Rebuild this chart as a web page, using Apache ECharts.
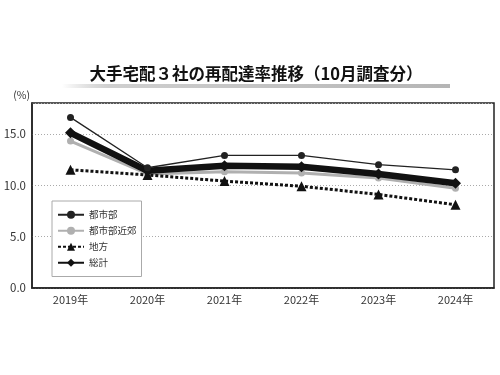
<!DOCTYPE html>
<html>
<head>
<meta charset="utf-8">
<script src="https://cdn.jsdelivr.net/npm/echarts@6/dist/echarts.min.js"></script>
<style>
  html, body { margin: 0; padding: 0; background: #fff; }
  #chart { width: 500px; height: 375px; }
</style>
</head>
<body>
<div id="chart"></div>
<script>
const years = ['2019年', '2020年', '2021年', '2022年', '2023年', '2024年'];
const urban = [16.6, 11.7, 12.9, 12.9, 12.0, 11.5];
const suburban = [14.3, 11.1, 11.3, 11.2, 10.7, 9.7];
const rural = [11.5, 11.0, 10.4, 9.9, 9.1, 8.1];
const total = [15.1, 11.4, 11.9, 11.8, 11.1, 10.2];
const yTicks = [0, 5, 10, 15];

const font = '"Noto Sans CJK JP", "Noto Sans", sans-serif';
const chart = echarts.init(document.getElementById('chart'), null, { renderer: 'canvas' });

chart.setOption({
  backgroundColor: '#fff',
  animation: false,
  textStyle: { fontFamily: font },
  graphic: [
    {
      type: 'rect',
      shape: { x: 62, y: 84, width: 388, height: 4 },
      style: {
        fill: new echarts.graphic.LinearGradient(0, 0, 1, 0, [
          { offset: 0, color: 'rgba(190,190,190,0)' },
          { offset: 0.12, color: '#cfcfcf' },
          { offset: 1, color: '#b5b5b5' }
        ])
      },
      z: 1
    },
    {
      type: 'text',
      x: 256, y: 74,
      style: {
        text: '大手宅配３社の再配達率推移（10月調査分）',
        font: 'bold 16.5px ' + font,
        fill: '#111',
        align: 'center',
        verticalAlign: 'middle'
      },
      z: 2
    }
  ],
  grid: {
    left: 32, right: 6, top: 103, bottom: 87,
    show: true, borderColor: '#222', borderWidth: 1.5,
    containLabel: false
  },
  legend: {
    orient: 'vertical',
    left: 52, top: 201,
    padding: [9, 5, 9, 5],
    itemWidth: 26, itemHeight: 10, itemGap: 6.5,
    borderColor: '#aaa', borderWidth: 1,
    backgroundColor: '#fff',
    textStyle: { fontSize: 9.5, color: '#333', fontFamily: font },
    data: ['都市部', '都市部近郊', '地方', '総計']
  },
  xAxis: {
    type: 'category',
    data: years,
    boundaryGap: true,
    axisLine: { lineStyle: { color: '#222', width: 1.5 } },
    axisTick: { inside: true, length: 3, lineStyle: { color: '#222' } },
    axisLabel: { color: '#333', fontSize: 11, margin: 6 }
  },
  yAxis: {
    type: 'value',
    min: 0, max: 18, interval: 5,
    name: '(%)',
    nameLocation: 'end',
    nameGap: 3,
    nameTextStyle: { color: '#333', fontSize: 10.5, align: 'right', padding: [0, 2, 0, 0] },
    axisLine: { show: true, lineStyle: { color: '#222', width: 1.5 } },
    axisTick: { show: false },
    axisLabel: {
      color: '#333', fontSize: 11.5, margin: 6,
      formatter: v => yTicks.includes(v) ? v.toFixed(1) : ''
    },
    splitLine: { lineStyle: { color: '#aaa', type: [1, 2], width: 1 } }
  },
  series: [
    {
      name: '都市部', type: 'line', data: urban,
      symbol: 'circle', symbolSize: 7,
      lineStyle: { color: '#222', width: 1.3 },
      itemStyle: { color: '#222' },
      z: 5
    },
    {
      name: '都市部近郊', type: 'line', data: suburban,
      symbol: 'circle', symbolSize: 7,
      lineStyle: { color: '#b0b0b0', width: 3 },
      itemStyle: { color: '#b0b0b0' },
      z: 2
    },
    {
      name: '地方', type: 'line', data: rural,
      symbol: 'triangle', symbolSize: 10,
      lineStyle: { color: '#111', width: 3, type: [3, 2] },
      itemStyle: { color: '#111' },
      z: 3
    },
    {
      name: '総計', type: 'line', data: total,
      symbol: 'diamond', symbolSize: 11,
      lineStyle: { color: '#111', width: 6.5 },
      itemStyle: { color: '#111' },
      z: 4
    }
  ]
});
</script>
</body>
</html>
